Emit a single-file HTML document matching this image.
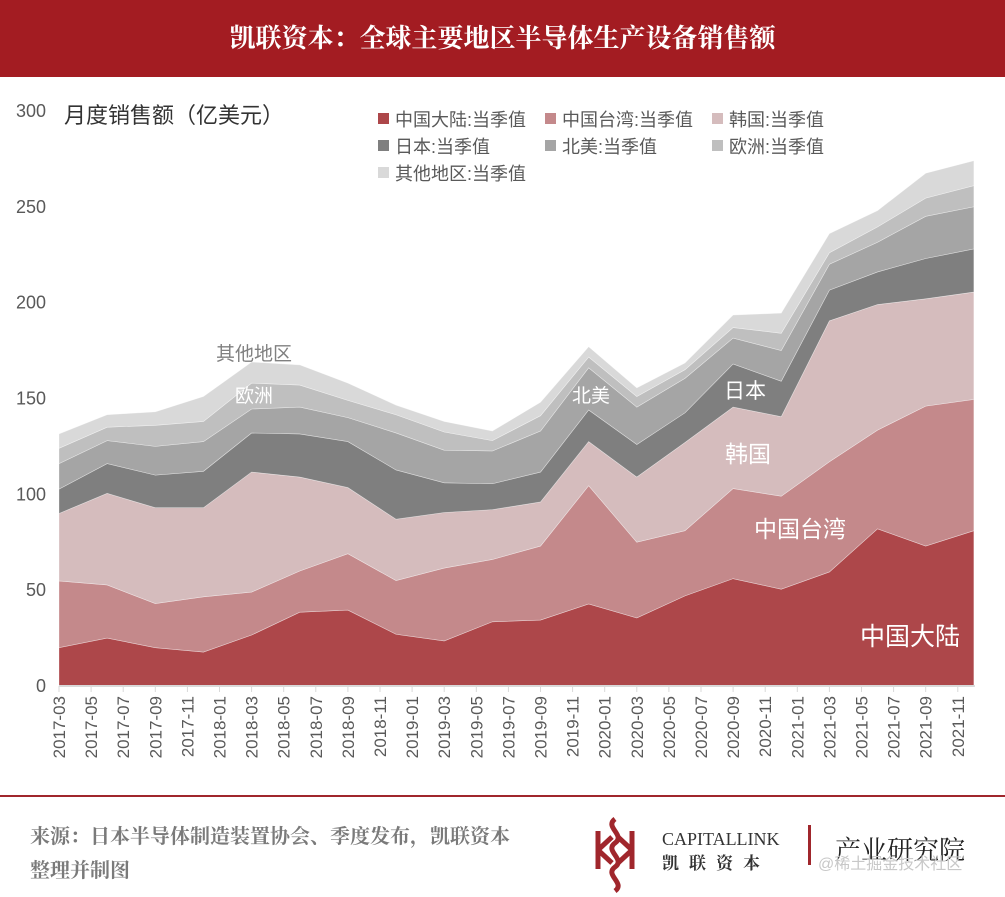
<!DOCTYPE html>
<html><head><meta charset="utf-8">
<style>
html,body{margin:0;padding:0;background:#fff;}
body{width:1005px;height:897px;overflow:hidden;position:relative;font-family:"Liberation Sans","Noto Sans CJK SC",sans-serif;}
#hdr{position:absolute;left:0;top:0;width:1005px;height:77px;background:#a31c22;color:#fff;font-family:"Liberation Serif","Noto Serif CJK SC",serif;font-weight:bold;font-size:26px;line-height:77px;text-align:center;}
#foot-line{position:absolute;left:0;top:795px;width:1005px;height:2px;background:#a0262c;}
#src{position:absolute;left:30px;top:820px;font-family:"Liberation Serif","Noto Serif CJK SC",serif;font-weight:bold;font-size:20px;color:#7a7a7a;line-height:34px;}
</style></head><body>
<div id="hdr">凯联资本：全球主要地区半导体生产设备销售额</div>
<svg id="chart" width="1005" height="797" style="position:absolute;left:0;top:0" xmlns="http://www.w3.org/2000/svg"></svg>
<div id="foot-line"></div>
<div id="src">来源：日本半导体制造装置协会、季度发布，凯联资本<br>整理并制图</div>
<svg width="420" height="80" style="position:absolute;left:592px;top:815px" xmlns="http://www.w3.org/2000/svg">
<g fill="none" stroke="#a0262c" stroke-width="5">
<path d="M23 4 C12 12 34 20 23 28 C12 36 34 44 23 52 C12 60 34 68 23 76"/>
<path d="M6 16 V54 M40 16 V54 M6 35 L20 22 M40 35 L26 22 M6 35 L20 48 M40 35 L26 48"/>
</g>
<text x="70" y="30" font-family="Liberation Serif, serif" font-size="18" fill="#333">CAPITALLINK</text>
<text x="70" y="54" font-family="Liberation Serif, Noto Serif CJK SC, serif" font-size="17" font-weight="bold" fill="#333" letter-spacing="10">凯联资本</text>
<rect x="216" y="10" width="3" height="40" fill="#a0262c"/>
<text x="243" y="44" font-family="Liberation Serif, Noto Serif CJK SC, serif" font-size="26" fill="#222">产业研究院</text>
<text x="226" y="54" font-family="Liberation Sans, Noto Sans CJK SC, sans-serif" font-size="16" fill="#c8c8c8">@稀土掘金技术社区</text>
</svg>
<script>
const months = ["2017-03","2017-05","2017-07","2017-09","2017-11","2018-01","2018-03","2018-05","2018-07","2018-09","2018-11","2019-01","2019-03","2019-05","2019-07","2019-09","2019-11","2020-01","2020-03","2020-05","2020-07","2020-09","2020-11","2021-01","2021-03","2021-05","2021-07","2021-09","2021-11"];
const quarterIdx = [0,3,6,9,12,15,18,21,24,27,30,33,36,39,42,45,48,51,54,57];
const seriesNames = ["中国大陆:当季值","中国台湾:当季值","韩国:当季值","日本:当季值","北美:当季值","欧洲:当季值","其他地区:当季值"];
const chinaMainland = [20,25,20,17.7,26.6,38.5,39.6,27,23.5,33.5,34.4,42.8,35.5,47,56,50.5,59.5,82,73,81];
const chinaTaiwan = [34.8,27.7,23,28.8,22.4,21.5,29.4,28,38,32.5,38.6,61.7,39.5,34,47,48.5,57.5,51.5,73,68.5];
const korea = [35.2,47.8,50,46.5,62.6,49,34.5,32,29,26,23,23,34,46,42.5,41.5,73.5,65.5,56,56];
const japan = [12.7,15.5,17,19,20.4,22.5,24,25.7,15.5,13.5,15.6,16.5,17,15.5,22.5,18.5,16,17,21,22.5];
const northAmerica = [13.3,12,15,15.5,12.5,14,12.5,19.3,17,17.1,21.4,22,19.5,18,13.5,16,13.5,15.5,22,22];
const europe = [8,7,11,10.5,13.5,11.5,9,9.5,9.5,5.4,8,5.6,5.5,4.5,5.5,9,6,8,9.5,11];
const others = [7.5,6.5,7,13,11,10.5,9,5,5.5,5,7,5.4,4.5,3.5,6.5,10.5,10,8.5,13,13];
const yTicks = [0,50,100,150,200,250,300];

const NS="http://www.w3.org/2000/svg";
const svg=document.getElementById('chart');
const colors=["#ad474a","#c4898b","#d5bcbd","#7f7f7f","#a5a5a5","#bfbfbf","#d9d9d9"];
const X0=59, PX=16.05, Y0=686, PY=1.917;
function xs(m){return X0+m*PX;}
function ys(v){return Y0-v*PY;}
function mk(tag,attrs){const e=document.createElementNS(NS,tag);for(const k in attrs)e.setAttribute(k,attrs[k]);svg.appendChild(e);return e;}

const all=[chinaMainland,chinaTaiwan,korea,japan,northAmerica,europe,others];
let base=quarterIdx.map(()=>0);
const areaNames=['area-china-mainland','area-china-taiwan','area-korea','area-japan','area-north-america','area-europe','area-others'];
all.forEach((s,si)=>{
  const top=base.map((b,i)=>b+s[i]);
  let d='M'+quarterIdx.map((m,i)=>xs(m)+','+ys(top[i])).join(' L');
  for(let i=quarterIdx.length-1;i>=0;i--) d+=' L'+xs(quarterIdx[i])+','+ys(base[i]);
  d+='Z';
  const p=mk('path',{d:d,fill:colors[si],stroke:'#ffffff','stroke-width':0.6,'stroke-opacity':0.5});
  
  
  base=top;
});

const ax=mk('line',{x1:X0,y1:Y0,x2:xs(57)+1,y2:Y0,stroke:'#d9d9d9','stroke-width':2});


months.forEach((lab,i)=>{
  const x=xs(i*2);
  mk('line',{x1:x,y1:Y0,x2:x,y2:Y0+6,stroke:'#d9d9d9','stroke-width':1});
  const t=mk('text',{x:0,y:0,transform:`translate(${x+6},${Y0+10}) rotate(-90)`,'text-anchor':'end','font-size':17,fill:'#595959'});
  t.textContent=lab;
  
  
});
yTicks.forEach(v=>{
  const t=mk('text',{x:46,y:ys(v)+6,'text-anchor':'end','font-size':18,fill:'#595959'});
  t.textContent=v;
  
  
});
const yt=mk('text',{x:64,y:123,'font-size':22,fill:'#333'});
yt.textContent='月度销售额（亿美元）';



const legPos=[[378,124],[545,124],[712,124],[378,151],[545,151],[712,151],[378,178]];
seriesNames.forEach((n,i)=>{
  const [lx,ly]=legPos[i];
  const r=mk('rect',{x:lx,y:ly-11,width:11,height:11,fill:colors[i]});
  
  
  const t=mk('text',{x:lx+17,y:ly+2,'font-size':18,fill:'#595959'});
  t.textContent=n;
  
  
});

const labs=[['其他地区',254,360,19,'#808080'],['欧洲',254,402,19,'#fff'],['北美',591,402,19,'#fff'],['日本',745,398,21,'#fff'],['韩国',748,462,23,'#fff'],['中国台湾',800,537,23,'#fff'],['中国大陆',910,645,25,'#fff']];
labs.forEach(l=>{
  const t=mk('text',{x:l[1],y:l[2],'text-anchor':'middle','font-size':l[3],fill:l[4]});
  t.textContent=l[0];
  
  
});
</script>
</body></html>
